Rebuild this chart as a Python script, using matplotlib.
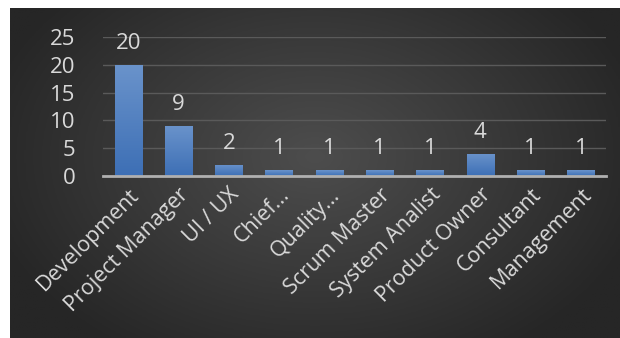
import numpy as np
import matplotlib.pyplot as plt
from matplotlib.colors import LinearSegmentedColormap

categories = ['Development', 'Project Manager', 'UI / UX', 'Chief...', 'Quality...',
              'Scrum Master', 'System Analist', 'Product Owner', 'Consultant', 'Management']
counts = [20, 9, 2, 1, 1, 1, 1, 4, 1, 1]
yticks = [0, 5, 10, 15, 20, 25]

plt.rcParams['font.family'] = ['Open Sans', 'DejaVu Sans']
txt = '#d9d9d9'

fig = plt.figure(figsize=(6.2, 3.38), dpi=100)
fig.patch.set_facecolor('white')

# dark radial background (white strip on top and left)
bg = fig.add_axes([10/620, 0, 610/620, 330/338])
bg.set_axis_off()
yy, xx = np.mgrid[0:1:200j, 0:1:300j]
r = np.sqrt(((xx - 0.5) / 0.75) ** 2 + ((yy - 0.45) / 0.95) ** 2)
bgmap = LinearSegmentedColormap.from_list('bg', ['#4d4d4d', '#3a3a3a', '#262626'])
bg.imshow(r, cmap=bgmap, aspect='auto', extent=[0, 1, 0, 1], vmin=0, vmax=0.75)
bg.set_xlim(0, 1)
bg.set_ylim(0, 1)

ax = fig.add_axes([103/620, 1 - 176/338, 503/620, 139/338])
ax.patch.set_alpha(0)
x = np.arange(len(categories))
bars = ax.bar(x, counts, width=0.54, color='#4a7cc0', zorder=3)

# vertical gradient on bars
barmap = LinearSegmentedColormap.from_list('bar', ['#3d6fb5', '#6a93cb'])
grad = np.linspace(0, 1, 100).reshape(-1, 1)
for b in bars:
    x0, w, h = b.get_x(), b.get_width(), b.get_height()
    im = ax.imshow(grad, cmap=barmap, aspect='auto', origin='lower',
                   extent=[x0, x0 + w, 0, h], zorder=3)
    im.set_clip_path(b)
    ax.annotate(str(h), (x0 + w / 2, h), xytext=(0, 8), textcoords='offset points',
                ha='center', va='bottom', color=txt, fontsize=16)

ax.set_xlim(-0.5, len(categories) - 0.5)
ax.set_ylim(0, 25)
ax.set_yticks(yticks)
ax.grid(axis='y', color='#5a5a5a', linewidth=1, zorder=0)
for s in ['top', 'right', 'left']:
    ax.spines[s].set_visible(False)
ax.spines['bottom'].set_color('#b0b0b0')
ax.spines['bottom'].set_linewidth(2)
ax.spines['bottom'].set_zorder(4)
ax.tick_params(axis='y', length=0, pad=20, labelcolor=txt, labelsize=16)
ax.tick_params(axis='x', length=0, pad=6, labelcolor=txt, labelsize=15.5)
ax.set_xticks(x)
ax.set_xticklabels(categories, rotation=45, ha='right', rotation_mode='anchor')

fig.savefig('out.png', dpi=100)
